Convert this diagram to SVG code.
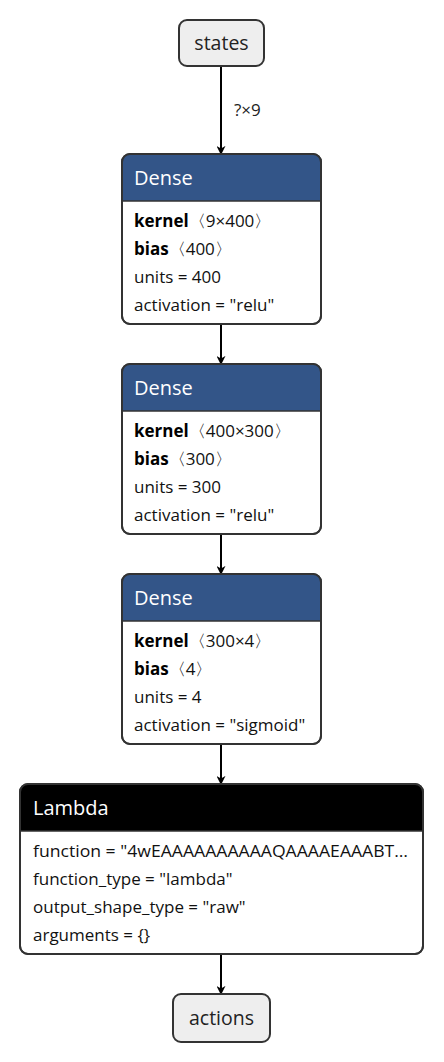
<svg xmlns="http://www.w3.org/2000/svg" width="444" height="1062" viewBox="0 0 444 1062">
<style>
text{font-family:"Open Sans","Noto Sans","DejaVu Sans",sans-serif;fill:#000}
.io{fill:#eeeeee;stroke:#333;stroke-width:2}
.iot{font-size:19.5px;text-anchor:middle;fill:#222}
.box{fill:#fff;stroke:#333;stroke-width:2}
.hd{fill:#335588}
.hdl{fill:#000}
.ht{font-size:20px;fill:#fff}
.bt{font-size:17px;fill:#111}
.b{font-weight:bold;fill:#000}
.sep{stroke:#333;stroke-width:1.5}
.edge{stroke:#000;stroke-width:2;fill:none;marker-end:url(#arr)}
.el{font-size:17px;fill:#222}
</style>
<defs>
<marker id="arr" viewBox="0 0 10 10" refX="9" refY="5" markerWidth="9" markerHeight="9" markerUnits="userSpaceOnUse" orient="auto">
<path d="M0,0 L10,5 L0,10 L3,5 Z" fill="#000"/>
</marker>
<clipPath id="c1"><rect x="122" y="154" width="199" height="170" rx="8"/></clipPath>
<clipPath id="c2"><rect x="122" y="364" width="199" height="170" rx="8"/></clipPath>
<clipPath id="c3"><rect x="122" y="574" width="199" height="170" rx="8"/></clipPath>
<clipPath id="c4"><rect x="20" y="784" width="403" height="170" rx="8"/></clipPath>
</defs>
<g id="edges">
<path class="edge" d="M221,66 V154"/>
<text class="el" x="234" y="116">?×9</text>
<path class="edge" d="M221,324 V364"/>
<path class="edge" d="M221,534 V574"/>
<path class="edge" d="M221,744 V784"/>
<path class="edge" d="M221,954 V994"/>
</g>
<g id="states">
<rect class="io" x="179" y="20" width="85" height="46" rx="8"/>
<text class="iot" x="221.5" y="50">states</text>
</g>
<g id="dense1">
<rect class="box" x="122" y="154" width="199" height="170" rx="8"/>
<rect class="hd" x="122" y="154" width="199" height="47" clip-path="url(#c1)"/>
<line class="sep" x1="122" y1="201" x2="321" y2="201"/>
<rect x="122" y="154" width="199" height="170" rx="8" fill="none" stroke="#333" stroke-width="2"/>
<text class="ht" x="134" y="185">Dense</text>
<text class="bt" x="134" y="227"><tspan class="b">kernel</tspan>〈9×400〉</text>
<text class="bt" x="134" y="255"><tspan class="b">bias</tspan>〈400〉</text>
<text class="bt" x="134" y="283">units = 400</text>
<text class="bt" x="134" y="311">activation = "relu"</text>
</g>
<g id="dense2">
<rect class="box" x="122" y="364" width="199" height="170" rx="8"/>
<rect class="hd" x="122" y="364" width="199" height="47" clip-path="url(#c2)"/>
<line class="sep" x1="122" y1="411" x2="321" y2="411"/>
<rect x="122" y="364" width="199" height="170" rx="8" fill="none" stroke="#333" stroke-width="2"/>
<text class="ht" x="134" y="395">Dense</text>
<text class="bt" x="134" y="437"><tspan class="b">kernel</tspan>〈400×300〉</text>
<text class="bt" x="134" y="465"><tspan class="b">bias</tspan>〈300〉</text>
<text class="bt" x="134" y="493">units = 300</text>
<text class="bt" x="134" y="521">activation = "relu"</text>
</g>
<g id="dense3">
<rect class="box" x="122" y="574" width="199" height="170" rx="8"/>
<rect class="hd" x="122" y="574" width="199" height="47" clip-path="url(#c3)"/>
<line class="sep" x1="122" y1="621" x2="321" y2="621"/>
<rect x="122" y="574" width="199" height="170" rx="8" fill="none" stroke="#333" stroke-width="2"/>
<text class="ht" x="134" y="605">Dense</text>
<text class="bt" x="134" y="647"><tspan class="b">kernel</tspan>〈300×4〉</text>
<text class="bt" x="134" y="675"><tspan class="b">bias</tspan>〈4〉</text>
<text class="bt" x="134" y="703">units = 4</text>
<text class="bt" x="134" y="731">activation = "sigmoid"</text>
</g>
<g id="lambda">
<rect class="box" x="20" y="784" width="403" height="170" rx="8"/>
<rect class="hdl" x="20" y="784" width="403" height="47" clip-path="url(#c4)"/>
<line class="sep" x1="20" y1="831" x2="423" y2="831"/>
<rect x="20" y="784" width="403" height="170" rx="8" fill="none" stroke="#333" stroke-width="2"/>
<text class="ht" x="33" y="815">Lambda</text>
<text class="bt" x="33" y="857" textLength="375" lengthAdjust="spacingAndGlyphs">function = "4wEAAAAAAAAAAQAAAAEAAABT…</text>
<text class="bt" x="33" y="885">function_type = "lambda"</text>
<text class="bt" x="33" y="913">output_shape_type = "raw"</text>
<text class="bt" x="33" y="941">arguments = {}</text>
</g>
<g id="actions">
<rect class="io" x="173" y="994" width="97" height="48" rx="8"/>
<text class="iot" x="221.5" y="1025">actions</text>
</g>
</svg>
